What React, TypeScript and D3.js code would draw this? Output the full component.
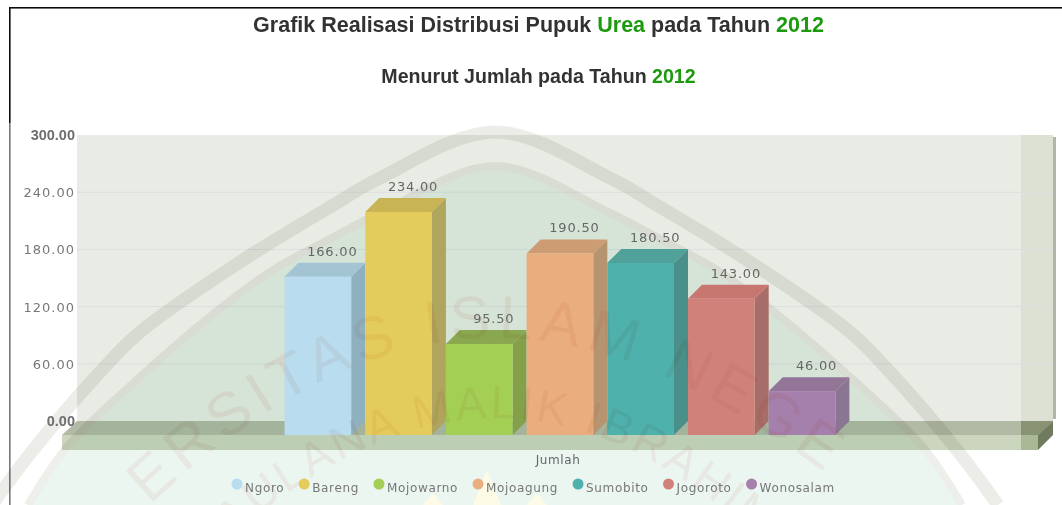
import React from "react";
import * as d3 from "d3";

const categories = ["Ngoro", "Bareng", "Mojowarno", "Mojoagung", "Sumobito", "Jogoroto", "Wonosalam"];
const values = [166, 234, 95.5, 190.5, 180.5, 143, 46];
const valueLabels = ["166.00", "234.00", "95.50", "190.50", "180.50", "143.00", "46.00"];
const frontColors = ["#b9dcee", "#e4cc5c", "#a4cf55", "#eaae7e", "#4fb1ac", "#d0827a", "#a680ac"];
const sideColors = ["#8fb0bf", "#b0a55c", "#85a04c", "#b79470", "#4b8f8b", "#a76e69", "#8a7593"];
const topColors = ["#a3c4d3", "#c9b455", "#8aa850", "#cd9c72", "#4fa199", "#c7766f", "#937597"];
const yTicks = [0, 60, 120, 180, 240, 300];
const xAxisLabel = "Jumlah";

const W = 1062, H = 505;
const D = 14, DX = 15;
const wallL = 77, wallR = 1053, wallT = 135, wallB = 421;
const sidebarL = 1021;

const y = d3.scaleLinear().domain([0, 300]).range([wallB, wallT]);
const x = d3.scaleBand<string>().domain(categories).range([284.5 - 7, 284.5 - 7 + 80.7 * 7]).paddingInner(14 / 80.7).paddingOuter(7 / 80.7);

const outerHalf: [number, number][] = [[495, 132], [380, 178], [330, 207], [240, 262], [140, 332], [100, 372], [33, 450], [-8, 505]];
const innerHalf: [number, number][] = [[495, 166], [380, 213], [330, 239], [273, 270], [207, 319], [140, 377], [67, 447], [28, 505]];
const mirror = (p: [number, number][]) => [...p].reverse().slice(0, -1).map(([a, b]) => [990 - a, b] as [number, number]);
const curve = d3.line().curve(d3.curveCatmullRom.alpha(0.5));
const outerPath = curve([...outerHalf].reverse().concat(mirror(outerHalf).reverse()))!;
const innerPts = [...innerHalf].reverse().concat(mirror(innerHalf).reverse());
const innerPath = curve(innerPts)!;
const greenPath = innerPath + "Z";

const poly = (p: number[][]) => "M" + p.map(a => a.join(",")).join("L") + "Z";

function legendLayout(): number[] {
  const ctx = typeof document !== "undefined" ? document.createElement("canvas").getContext("2d") : null;
  let cur = 237;
  return categories.map(c => {
    const at = cur;
    let w = c.length * 7.6;
    if (ctx) { ctx.font = "12px 'DejaVu Sans'"; w = ctx.measureText(c).width + c.length * 0.65; }
    cur += 8 + w + 20;
    return at;
  });
}

export default function App() {
  const legendX = legendLayout();
  const sans = "'Liberation Sans', Arial, sans-serif";
  const dj = "'DejaVu Sans', Verdana, sans-serif";
  return (
    <svg width={W} height={H} viewBox={`0 0 ${W} ${H}`} style={{ position: "absolute", left: 0, top: 0, background: "#fff" }}>
      <defs>
        <filter id="soft" x="-5%" y="-5%" width="110%" height="110%"><feGaussianBlur stdDeviation="0.45" /></filter>
        <path id="wmA" d="M 150,505 C 260,400 380,338 490,338 C 610,338 720,385 900,530" fill="none" />
        <path id="wmB" d="M 150,620 C 250,500 380,418 495,418 C 600,418 690,470 820,590" fill="none" />
      </defs>
      <g filter="url(#soft)">
        {/* frame */}
        <rect x={9} y={7} width={W - 9} height={1.6} fill="#111" />
        <rect x={9} y={7} width={1.6} height={116} fill="#111" />
        <rect x={9} y={123} width={1.6} height={H - 123} fill="#777" />

        {/* titles */}
        <text x={538.5} y={32} textAnchor="middle" fontFamily={sans} fontWeight="bold" fontSize={21.5} fill="#333">
          Grafik Realisasi Distribusi Pupuk <tspan fill="#1e9a10">Urea</tspan> pada Tahun <tspan fill="#1e9a10">2012</tspan>
        </text>
        <text x={538.5} y={83} textAnchor="middle" fontFamily={sans} fontWeight="bold" fontSize={19.6} fill="#333">
          Menurut Jumlah pada Tahun <tspan fill="#1e9a10">2012</tspan>
        </text>

        {/* wall and side strip */}
        <rect x={wallL} y={wallT} width={wallR - wallL} height={wallB - wallT} fill="#e9ece4" />
        <rect x={sidebarL} y={wallT} width={wallR - sidebarL} height={wallB - wallT} fill="#dce1d3" />
        <rect x={wallR} y={wallT + 2} width={3} height={wallB - wallT - 4} fill="#b0b6a9" />
        {yTicks.slice(1, -1).map(t => (
          <line key={t} x1={wallL} x2={wallR} y1={y(t)} y2={y(t)} stroke="#dcdee0" strokeWidth={1} />
        ))}

        {/* floor */}
        <path d={poly([[wallL, wallB], [wallR, wallB], [wallR - DX, wallB + D], [wallL - DX, wallB + D]])} fill="#b1baa5" />
        <rect x={wallL - DX} y={wallB + D} width={wallR - wallL} height={15} fill="#ccd6bf" />
        <path d={poly([[sidebarL, wallB], [wallR, wallB], [wallR - DX, wallB + D], [sidebarL, wallB + D]])} fill="#879373" />
        <rect x={sidebarL} y={wallB + D} width={wallR - DX - sidebarL} height={15} fill="#aab896" />
        <path d={poly([[wallR - DX, wallB + D], [wallR, wallB], [wallR, wallB + D], [wallR - DX, wallB + D + 15]])} fill="#6f7a5e" />

        {/* watermark beneath the columns */}
        <g style={{ mixBlendMode: "multiply" }}>
          <path d={greenPath} fill="#ebf6f1" />
          <path d={outerPath} fill="none" stroke="#ecece9" strokeWidth={13} />
          <path d={innerPath} fill="none" stroke="#eeeeeb" strokeWidth={8} />
        </g>
        {([[433, 493, 10], [487, 470, 14], [537, 493, 10]] as number[][]).map(([cx, top, hw]) => (
          <path key={cx} d={poly([[cx - hw, H], [cx, top], [cx + hw, H]])} fill="#fdfbe6" />
        ))}

        {/* columns */}
        {categories.map((c, i) => {
          const x0 = x(c)!;
          const x1 = x0 + x.bandwidth();
          const yBase = y(0) + D;
          const yTop = y(values[i]) + D;
          return (
            <g key={c}>
              <path d={poly([[x1, yTop], [x1 + DX - 1, yTop - D], [x1 + DX - 1, yBase - D], [x1, yBase]])} fill={sideColors[i]} />
              <path d={poly([[x0, yTop], [x0 + DX - 1, yTop - D], [x1 + DX - 1, yTop - D], [x1, yTop]])} fill={topColors[i]} />
              <rect x={x0} y={yTop} width={x.bandwidth()} height={yBase - yTop} fill={frontColors[i]} />
            </g>
          );
        })}

        {/* watermark lettering, faint over everything */}
        <g style={{ mixBlendMode: "multiply" }} fontFamily={sans} fill="#faf1ee">
          <text fontSize={60} letterSpacing={7}><textPath href="#wmA" startOffset="0">ERSITAS ISLAM NEGE</textPath></text>
          <text fontSize={46} letterSpacing={3}><textPath href="#wmB" startOffset="50%" textAnchor="middle">MAULANA MALIK IBRAHIM</textPath></text>
        </g>

        {/* value labels */}
        {categories.map((c, i) => (
          <text key={c} x={x(c)! + x.bandwidth() / 2 + 14.5} y={y(values[i]) - 7} textAnchor="middle"
            fontFamily={dj} fontSize={13} letterSpacing={0.8} fill="#666">{valueLabels[i]}</text>
        ))}

        {/* y axis labels */}
        {yTicks.map(t => {
          const strong = t === 0 || t === 300;
          return (
            <text key={t} x={75} y={y(t) + 5} textAnchor="end"
              fontFamily={strong ? sans : dj} fontWeight={strong ? "bold" : "normal"}
              fontSize={strong ? 14.5 : 13} letterSpacing={strong ? 0 : 1} fill={strong ? "#6e6e6e" : "#777"}>{d3.format(".2f")(t)}</text>
          );
        })}

        {/* x axis label */}
        <text x={558} y={464} textAnchor="middle" fontFamily={dj} fontSize={12} letterSpacing={0.6} fill="#666">{xAxisLabel}</text>

        {/* legend */}
        {categories.map((c, i) => (
          <g key={c}>
            <circle cx={legendX[i]} cy={484} r={5.5} fill={frontColors[i]} />
            <text x={legendX[i] + 8} y={492} fontFamily={dj} fontSize={12} letterSpacing={0.65} fill="#777">{c}</text>
          </g>
        ))}
      </g>
    </svg>
  );
}
